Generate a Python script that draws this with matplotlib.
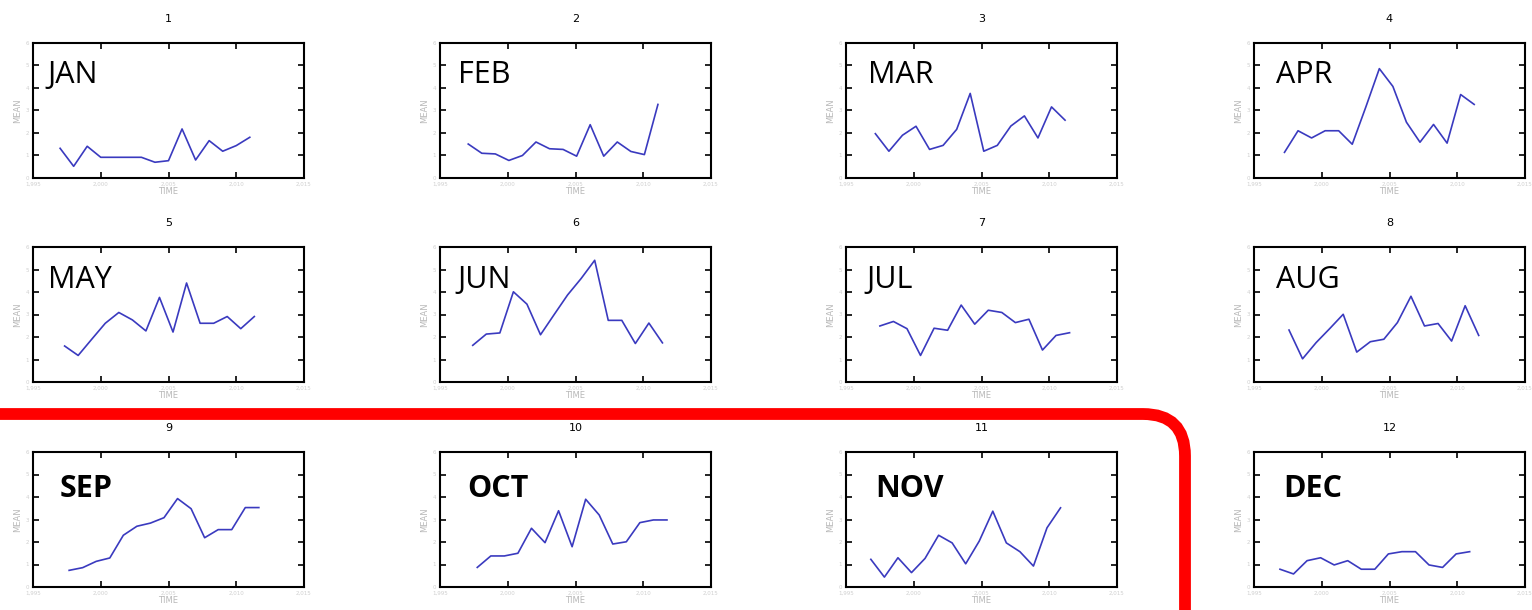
import numpy as np
import matplotlib
matplotlib.use("Agg")
import matplotlib.pyplot as plt
from matplotlib.patches import FancyBboxPatch

# monthly means, one value per year (15 years)
months = ["JAN", "FEB", "MAR", "APR", "MAY", "JUN",
          "JUL", "AUG", "SEP", "OCT", "NOV", "DEC"]
years = np.arange(1997, 2012)
year_shift = [0, 0, 0, 0, 0, 0, 0, 0, 0, 0, -1, -1]

jan = [1.32, 0.52, 1.41, 0.92, 0.92, 0.92, 0.92, 0.70, 0.77, 2.18, 0.80, 1.66, 1.19, 1.44, 1.81]
feb = [1.51, 1.10, 1.07, 0.78, 1.00, 1.60, 1.30, 1.27, 0.97, 2.37, 0.97, 1.60, 1.18, 1.04, 3.27]
mar = [1.97, 1.19, 1.90, 2.30, 1.27, 1.45, 2.16, 3.76, 1.19, 1.45, 2.31, 2.76, 1.78, 3.16, 2.57]
apr = [1.14, 2.10, 1.78, 2.10, 2.10, 1.50, 3.15, 4.86, 4.07, 2.48, 1.59, 2.38, 1.55, 3.71, 3.27]
may = [1.60, 1.18, 1.90, 2.61, 3.09, 2.76, 2.27, 3.76, 2.22, 4.40, 2.61, 2.61, 2.91, 2.37, 2.91]
jun = [1.63, 2.13, 2.18, 4.01, 3.46, 2.10, 2.99, 3.87, 4.60, 5.41, 2.74, 2.74, 1.71, 2.62, 1.74]
jul = [2.49, 2.69, 2.37, 1.18, 2.39, 2.30, 3.42, 2.57, 3.19, 3.09, 2.64, 2.79, 1.42, 2.07, 2.19]
aug = [2.31, 1.03, 1.75, 2.37, 3.01, 1.33, 1.79, 1.90, 2.64, 3.81, 2.49, 2.60, 1.82, 3.39, 2.07]
sep = [0.74, 0.86, 1.14, 1.29, 2.30, 2.70, 2.84, 3.08, 3.93, 3.48, 2.19, 2.55, 2.55, 3.53, 3.53]
oct_ = [0.87, 1.38, 1.38, 1.50, 2.61, 1.97, 3.39, 1.79, 3.90, 3.20, 1.91, 2.01, 2.86, 2.98, 2.98]
nov = [1.23, 0.44, 1.30, 0.64, 1.27, 2.30, 1.96, 1.03, 2.04, 3.37, 1.96, 1.57, 0.93, 2.63, 3.52]
dec = [0.79, 0.58, 1.17, 1.30, 0.98, 1.17, 0.79, 0.79, 1.47, 1.57, 1.57, 0.98, 0.87, 1.47, 1.57]
series = [jan, feb, mar, apr, may, jun, jul, aug, sep, oct_, nov, dec]

xticks = [1995, 2000, 2005, 2010, 2015]
xticklabels = ["1,995", "2,000", "2,005", "2,010", "2,015"]
yticks = [0, 1, 2, 3, 4, 5, 6]

W, H = 1532, 610
fig = plt.figure(figsize=(W / 100, H / 100), dpi=100)

col_left = [33, 440, 846, 1254]
row_top = [43, 247, 452]
ax_w, ax_h = 271, 135
label_x = [0.055, 0.066, 0.08, 0.08, 0.055, 0.063, 0.074, 0.08, 0.10, 0.10, 0.107, 0.108]

for i in range(12):
    r, c = divmod(i, 4)
    left = col_left[c] / W
    bottom = 1 - (row_top[r] + ax_h) / H
    ax = fig.add_axes([left, bottom, ax_w / W, ax_h / H])
    t = years + year_shift[i] + i / 12.0
    ax.plot(t, series[i], color="#3a3abf", lw=1.2)
    ax.set_xlim(1995, 2015)
    ax.set_ylim(0, 6)
    ax.set_xticks(xticks)
    ax.set_xticklabels(xticklabels)
    ax.set_yticks(yticks)
    ax.tick_params(direction="in", length=4, width=1.2, color="black",
                   labelsize=4, labelcolor="#cfcfcf", top=True, right=True, pad=3)
    for s in ax.spines.values():
        s.set_linewidth(1.5)
    ax.set_xlabel("TIME", fontsize=6, color="#b8b8b8", labelpad=0)
    ax.set_ylabel("MEAN", fontsize=6, color="#b8b8b8", labelpad=2)
    ax.set_title(str(i + 1), fontsize=8, pad=15)
    ax.text(label_x[i], 0.70 if r < 2 else 0.67, months[i], transform=ax.transAxes,
            fontsize=22, family="Open Sans", va="baseline",
            fontweight="bold" if r == 2 else "normal")

# red highlight box around SEP-NOV
ov = fig.add_axes([0, 0, 1, 1], zorder=10)
ov.set_xlim(0, W)
ov.set_ylim(H, 0)
ov.axis("off")
ov.patch.set_alpha(0)
box = FancyBboxPatch((-60, 414), 1245, 400, boxstyle="round,pad=0,rounding_size=42",
                     fill=False, ec="#ff0000", lw=8.5, clip_on=False)
ov.add_patch(box)

fig.savefig("out.png", dpi=100)
